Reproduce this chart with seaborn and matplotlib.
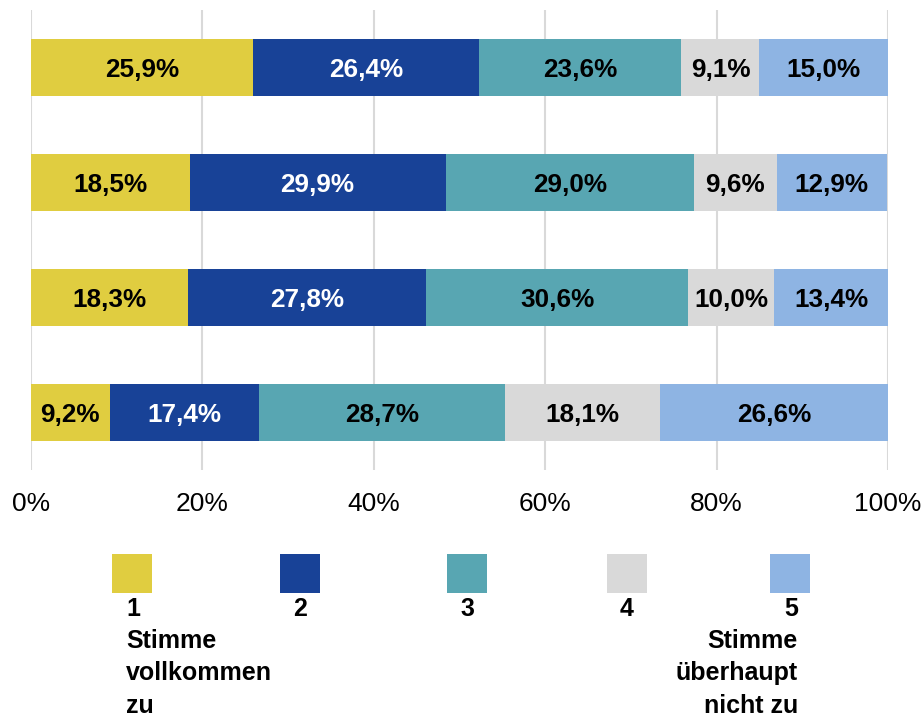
import pandas as pd
import seaborn as sns
import matplotlib.pyplot as plt
from matplotlib.patches import Rectangle

# Survey items (top to bottom) and answer shares per scale level, in percent
items = ["Item 1", "Item 2", "Item 3", "Item 4"]
level_1 = [25.9, 18.5, 18.3, 9.2]
level_2 = [26.4, 29.9, 27.8, 17.4]
level_3 = [23.6, 29.0, 30.6, 28.7]
level_4 = [9.1, 9.6, 10.0, 18.1]
level_5 = [15.0, 12.9, 13.4, 26.6]
levels = ["1", "2", "3", "4", "5"]
legend_labels = ["1\nStimme\nvollkommen\nzu", "2", "3", "4",
                 "5\nStimme\nüberhaupt\nnicht zu"]
x_ticks = [0, 20, 40, 60, 80, 100]

colors = ["#E0CD40", "#184297", "#58A6B2", "#D9D9D9", "#8EB4E3"]
label_colors = ["black", "white", "black", "black", "black"]

sns.set_style("white")
plt.rcParams["font.family"] = ["Liberation Sans", "DejaVu Sans"]

W, H = 923, 714
fig = plt.figure(figsize=(W / 100, H / 100), dpi=100)
ax = fig.add_axes([31 / W, 1 - 470 / H, 857 / W, 460 / H])

# long table with segment start/end for each item and level
series = [level_1, level_2, level_3, level_4, level_5]
records = []
for lvl, vals in zip(levels, series):
    for item, v in zip(items, vals):
        records.append({"item": item, "level": lvl, "value": v})
df = pd.DataFrame(records)
df["end"] = df.groupby("item")["value"].cumsum()
df["start"] = df["end"] - df["value"]

# stacked bars: draw cumulative totals from the last level backwards
for lvl, col in reversed(list(zip(levels, colors))):
    sub = df[df["level"] == lvl]
    sns.barplot(data=sub, x="end", y="item", order=items, orient="h",
                color=col, saturation=1, width=0.5, linewidth=0, ax=ax)

# value labels centred in each segment
for lvl, tcol in zip(levels, label_colors):
    sub = df[df["level"] == lvl]
    for _, r in sub.iterrows():
        pos = items.index(r["item"])
        txt = f"{r['value']:.1f}".replace(".", ",") + "%"
        ax.text(r["start"] + r["value"] / 2, pos, txt, ha="center",
                va="center_baseline", color=tcol, fontsize=18.8,
                fontweight="bold")

ax.set_xlim(0, 100)
ax.set_ylim(len(items) - 0.5, -0.5)
ax.set_xticks(x_ticks)
ax.set_xticklabels([f"{t}%" for t in x_ticks])
ax.set_yticks([])
ax.set_xlabel("")
ax.set_ylabel("")
ax.tick_params(axis="x", length=0, pad=16, labelsize=19, labelcolor="black")
ax.xaxis.grid(True, color="#D9D9D9", linewidth=1.5)
ax.set_axisbelow(True)
for s in ax.spines.values():
    s.set_visible(False)

# legend: colour squares with labels underneath
centers = [132, 300, 467, 627, 790]
for i, (cx, col) in enumerate(zip(centers, colors)):
    fig.add_artist(Rectangle(((cx - 20) / W, 1 - 593 / H), 40 / W, 39 / H,
                             transform=fig.transFigure, color=col, lw=0))
text_kw = dict(fontsize=18, fontweight="bold", va="top", linespacing=1.43,
               color="black")
fig.text(126 / W, 1 - 597 / H, legend_labels[0], ha="left", **text_kw)
for cx, lab in zip(centers[1:4], legend_labels[1:4]):
    fig.text(cx / W, 1 - 597 / H, lab, ha="center", **text_kw)
fig.text(798 / W, 1 - 597 / H, legend_labels[4], ha="right",
         multialignment="right", **text_kw)

fig.savefig("out.png", dpi=100)
